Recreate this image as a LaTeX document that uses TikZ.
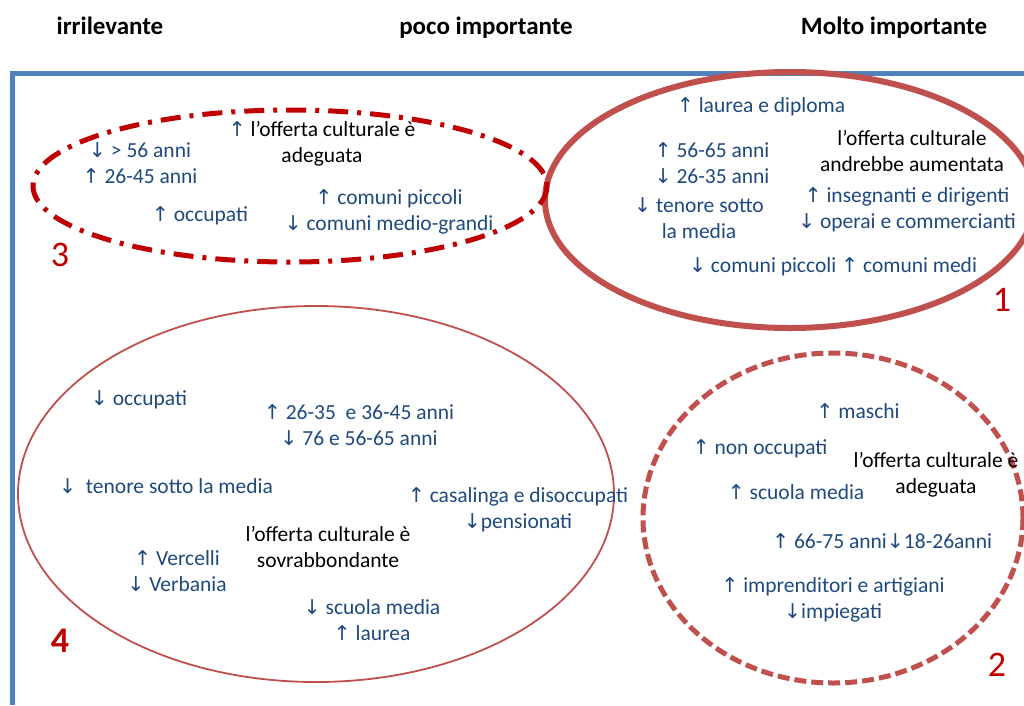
\documentclass[tikz,border=0pt]{standalone}
\usepackage{fontspec}
\setmainfont{Carlito}
\newfontfamily\arwfont[Scale=0.95]{DejaVu Sans}
\definecolor{axisblue}{HTML}{4F81BD}
\definecolor{txtblue}{HTML}{1F497D}
\definecolor{softred}{HTML}{C0504D}
\definecolor{darkred}{HTML}{C00000}
\newcommand{\myup}{{\arwfont ↑}}
\newcommand{\mydn}{{\arwfont ↓}}
\tikzset{
  axisline/.style={draw=axisblue, line width=5pt},
  head/.style={font=\fontsize{25}{28}\selectfont\bfseries, text=black, inner sep=0pt, anchor=base},
  tb/.style={font=\fontsize{21.5}{26}\selectfont, text=txtblue, align=center, inner sep=0pt},
  tk/.style={font=\fontsize{21.5}{26}\selectfont, text=black, align=center, inner sep=0pt},
  num/.style={font=\fontsize{36}{36}\selectfont, text=darkred, inner sep=0pt},
}
\begin{document}
\begin{tikzpicture}[x=1pt,y=-1pt]
\useasboundingbox (0,0) rectangle (1024,705);
% headers
\node[head] (h1) at (110,34) {irrilevante};
\node[head] (h2) at (486,34) {poco importante};
\node[head] (h3) at (894,34) {Molto importante};
% axes
\coordinate (o) at (12,73);
\coordinate (xe) at (1024,73);
\coordinate (ye) at (12,705);
\draw[axisline] (xe) -- (9.5,73);
\draw[axisline] (o) -- (ye);
% ellipses
\draw[softred, line width=1.8pt] (316,494) ellipse [x radius=298, y radius=188];
\draw[softred, line width=5pt, dash pattern=on 12pt off 5pt] (833,518) ellipse [x radius=190, y radius=165];
\draw[softred, line width=6pt] (790,200) ellipse [x radius=245, y radius=128];
\draw[darkred, line width=5pt, dash pattern=on 20pt off 9pt on 4pt off 9pt] (290,186) ellipse [x radius=257, y radius=76];
% group 3
\node[tb] (a1) at (140,163.5) {\mydn{} > 56 anni\\\myup{} 26-45 anni};
\node[tk] (a2) at (322,144) {{\color{txtblue}\myup} l’offerta culturale è\\adeguata};
\node[tb] (a3) at (200,216) {\myup{} occupati};
\node[tb] (a4) at (389,211.5) {\myup{} comuni piccoli\\\mydn{} comuni medio-grandi};
\node[num] (n3) at (60,255) {3};
% group 1
\node[tb] (b1) at (761,107) {\myup{} laurea e diploma};
\node[tb] (b2) at (712,163.5) {\myup{} 56-65 anni\\\mydn{} 26-35 anni};
\node[tb] (b3) at (699,218) {\mydn{} tenore sotto\\la media};
\node[tk] (b4) at (912,150.5) {l’offerta culturale\\andrebbe aumentata};
\node[tb] (b5) at (907,209.5) {\myup{} insegnanti e dirigenti\\\mydn{} operai e commercianti};
\node[tb] (b6) at (833,267) {\mydn{} comuni piccoli \myup{} comuni medi};
\node[num] (n1) at (1002,300) {1};
% group 4
\node[tb] (c1) at (139,400) {\mydn{} occupati};
\node[tb] (c2) at (359,425) {\myup{} 26-35\ \ e 36-45 anni\\\mydn{} 76 e 56-65 anni};
\node[tb] (c3) at (166,486) {\mydn{}\ \ tenore sotto la media};
\node[tb] (c4) at (518,510) {\myup{} casalinga e disoccupati\\\mydn{}pensionati};
\node[tk] (c5) at (328,547) {l’offerta culturale è\\sovrabbondante};
\node[tb] (c6) at (177,571) {\myup{} Vercelli\\\mydn{} Verbania};
\node[tb] (c7) at (372,620) {\mydn{} scuola media\\\myup{} laurea};
\node[num, font=\fontsize{36}{36}\selectfont\bfseries] (n4) at (60,641) {4};
% group 2
\node[tb] (d1) at (858,411) {\myup{} maschi};
\node[tb] (d2) at (760,449) {\myup{} non occupati};
\node[tk] (d3) at (936,474.5) {l’offerta culturale è\\adeguata};
\node[tb] (d4) at (796,492) {\myup{} scuola media};
\node[tb] (d5) at (882,541) {\myup{} 66-75 anni\mydn{}18-26anni};
\node[tb] (d6) at (833,599.5) {\myup{} imprenditori e artigiani\\\mydn{}impiegati};
\node[num] (n2) at (997,665) {2};
\end{tikzpicture}
\end{document}
